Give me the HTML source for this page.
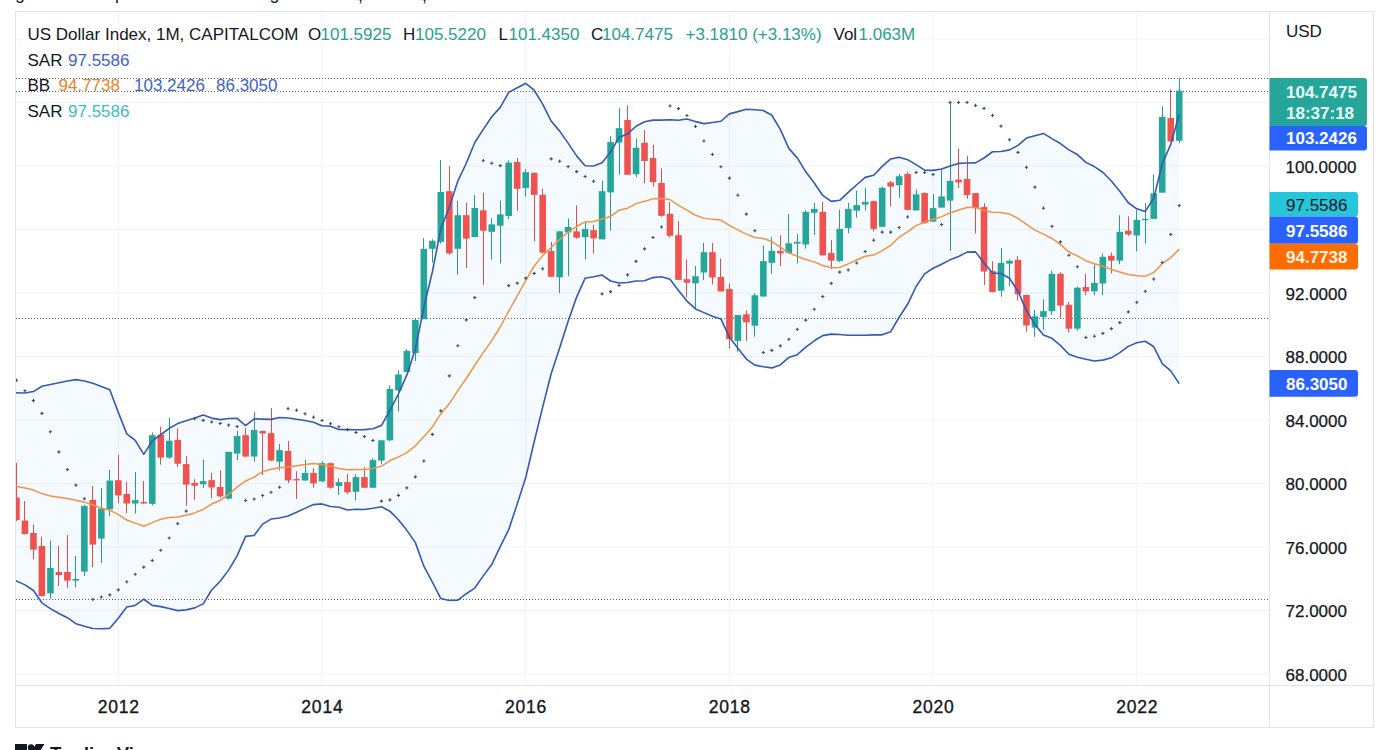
<!DOCTYPE html>
<html><head><meta charset="utf-8"><style>html,body{margin:0;padding:0;background:#fff;width:1389px;height:750px;overflow:hidden}</style></head>
<body><svg width="1389" height="750" viewBox="0 0 1389 750" style="display:block">
<rect width="1389" height="750" fill="#fff"/>
<g font-family="Liberation Sans, sans-serif" font-size="18" fill="#222"><text x="15" y="-1.3">g</text><text x="115" y="-1">p</text><text x="269.5" y="-1.3">g</text><text x="358" y="0.5">,</text><text x="422" y="0.5">,</text></g>
<path d="M15.5 674.0H1269.5 M15.5 610.5H1269.5 M15.5 547.0H1269.5 M15.5 483.5H1269.5 M15.5 420.0H1269.5 M15.5 356.5H1269.5 M15.5 293.0H1269.5 M15.5 229.5H1269.5 M15.5 166.0H1269.5 M15.5 102.5H1269.5 M15.5 39.0H1269.5 M118.3 11.5V685.5 M322.0 11.5V685.5 M525.7 11.5V685.5 M729.4 11.5V685.5 M933.1 11.5V685.5 M1136.8 11.5V685.5" stroke="#f0f3fa" stroke-width="1" fill="none"/>
<defs><clipPath id="cl"><rect x="15.5" y="11.5" width="1254.0" height="674.0"/></clipPath></defs>
<g clip-path="url(#cl)">
<polygon points="14.50,392.70 24.94,392.99 33.42,391.58 41.91,386.30 50.40,384.50 58.89,382.70 67.38,381.00 75.86,379.61 84.35,380.99 92.84,383.31 101.33,386.51 109.81,389.73 118.30,412.40 126.79,433.87 135.28,440.38 143.76,454.34 152.25,440.96 160.74,434.77 169.22,428.30 177.71,423.58 186.20,420.77 194.69,417.93 203.18,415.10 211.66,418.09 220.15,419.65 228.64,418.53 237.12,418.36 245.61,425.54 254.10,418.79 262.59,419.10 271.08,419.35 279.56,417.45 288.05,417.95 296.54,419.27 305.03,420.49 313.51,422.27 322.00,425.76 330.49,426.19 338.98,429.49 347.46,429.64 355.95,429.68 364.44,429.61 372.93,428.73 381.41,425.57 389.90,410.36 398.39,394.02 406.88,374.91 415.36,349.01 423.85,307.31 432.34,272.00 440.83,228.83 449.31,207.22 457.80,181.05 466.29,163.28 474.78,142.44 483.26,129.38 491.75,116.82 500.24,107.39 508.73,92.41 517.21,87.78 525.70,83.49 534.19,90.21 542.68,104.07 551.16,121.10 559.65,131.11 568.14,143.11 576.63,155.88 585.11,165.75 593.60,166.05 602.09,162.82 610.58,151.90 619.06,137.41 627.55,133.83 636.04,126.25 644.53,121.75 653.01,120.10 661.50,120.14 669.99,119.79 678.48,120.30 686.96,119.01 695.45,121.60 703.94,123.64 712.43,122.47 720.91,121.27 729.40,113.87 737.89,111.64 746.38,109.18 754.86,109.73 763.35,110.45 771.84,115.22 780.33,129.32 788.81,148.40 797.30,157.87 805.79,171.83 814.28,182.94 822.76,195.44 831.25,201.40 839.74,200.32 848.23,192.43 856.71,184.74 865.20,177.36 873.69,175.31 882.18,166.40 890.66,158.95 899.15,157.22 907.64,159.65 916.13,164.64 924.61,170.09 933.10,170.38 941.59,168.94 950.08,166.07 958.56,163.40 967.05,163.05 975.54,162.91 984.03,157.98 992.51,151.76 1001.00,151.49 1009.49,149.86 1017.98,145.35 1026.46,138.08 1034.95,135.71 1043.44,133.42 1051.93,138.67 1060.41,143.52 1068.90,149.87 1077.39,154.56 1085.88,162.40 1094.36,166.54 1102.85,172.28 1111.34,181.03 1119.83,191.30 1128.31,202.74 1136.80,208.84 1145.29,211.44 1153.78,198.10 1162.26,163.79 1170.75,144.39 1179.24,114.55 1179.24,383.65 1170.75,370.83 1162.26,363.58 1153.78,346.77 1145.29,341.25 1136.80,342.77 1128.31,346.38 1119.83,352.62 1111.34,357.81 1102.85,360.14 1094.36,361.01 1085.88,359.17 1077.39,357.32 1068.90,354.22 1060.41,345.34 1051.93,338.28 1043.44,334.92 1034.95,324.41 1026.46,310.61 1017.98,291.30 1009.49,278.27 1001.00,273.45 992.51,272.95 984.03,263.07 975.54,251.88 967.05,252.11 958.56,256.44 950.08,259.86 941.59,264.24 933.10,268.26 924.61,273.84 916.13,286.52 907.64,304.30 899.15,317.25 890.66,331.80 882.18,334.84 873.69,334.91 865.20,335.18 856.71,335.24 848.23,335.31 839.74,334.50 831.25,334.11 822.76,335.60 814.28,340.78 805.79,347.10 797.30,354.64 788.81,357.40 780.33,364.97 771.84,367.91 763.35,366.71 754.86,365.16 746.38,359.08 737.89,348.16 729.40,337.12 720.91,318.94 712.43,316.26 703.94,312.61 695.45,308.91 686.96,301.10 678.48,290.41 669.99,279.21 661.50,276.72 653.01,277.61 644.53,280.82 636.04,281.02 627.55,282.52 619.06,282.99 610.58,281.01 602.09,275.09 593.60,276.83 585.11,278.17 576.63,297.14 568.14,321.23 559.65,347.98 551.16,373.75 542.68,407.14 534.19,441.74 525.70,477.75 517.21,503.95 508.73,529.67 500.24,546.63 491.75,564.54 483.26,575.86 474.78,588.07 466.29,593.73 457.80,600.13 449.31,600.49 440.83,598.56 432.34,582.24 423.85,566.20 415.36,542.62 406.88,530.37 398.39,519.79 389.90,511.18 381.41,506.72 372.93,508.27 364.44,509.49 355.95,509.22 347.46,510.02 338.98,507.31 330.49,506.48 322.00,503.90 313.51,504.58 305.03,508.38 296.54,512.31 288.05,515.93 279.56,517.93 271.08,519.08 262.59,524.14 254.10,535.56 245.61,536.41 237.12,555.84 228.64,570.12 220.15,581.31 211.66,590.03 203.18,603.87 194.69,607.90 186.20,609.88 177.71,610.60 169.22,608.44 160.74,606.63 152.25,605.41 143.76,599.23 135.28,605.47 126.79,607.08 118.30,618.22 109.81,628.33 101.33,628.70 92.84,628.50 84.35,626.25 75.86,623.68 67.38,617.69 58.89,613.53 50.40,608.58 41.91,602.80 33.42,590.49 24.94,584.88 14.50,580.19" fill="#2196f3" fill-opacity="0.05"/>
<path d="M16 78.5H1269.5" stroke="#5d606b" stroke-width="1" stroke-dasharray="1 2"/>
<path d="M16 91.5H1269.5" stroke="#5d606b" stroke-width="1" stroke-dasharray="1 2"/>
<path d="M16 318.5H1269.5" stroke="#5d606b" stroke-width="1" stroke-dasharray="1 2"/>
<path d="M16 599.5H1269.5" stroke="#5d606b" stroke-width="1" stroke-dasharray="1 2"/>
<path d="M16.50 463.00V521.00" stroke="#d9504d" stroke-width="1"/>
<rect x="13.15" y="497.60" width="6.6" height="22.40" fill="#ef5350"/>
<path d="M24.50 501.00V534.60" stroke="#d9504d" stroke-width="1"/>
<rect x="21.64" y="520.60" width="6.6" height="13.40" fill="#ef5350"/>
<path d="M33.50 524.60V559.00" stroke="#d9504d" stroke-width="1"/>
<rect x="30.12" y="533.00" width="6.6" height="16.60" fill="#ef5350"/>
<path d="M41.50 536.60V596.60" stroke="#d9504d" stroke-width="1"/>
<rect x="38.61" y="546.00" width="6.6" height="50.00" fill="#ef5350"/>
<path d="M50.50 540.60V598.60" stroke="#2a9a8f" stroke-width="1"/>
<rect x="47.10" y="568.00" width="6.6" height="25.40" fill="#26a69a"/>
<path d="M58.50 546.00V586.00" stroke="#d9504d" stroke-width="1"/>
<rect x="55.59" y="572.00" width="6.6" height="3.00" fill="#ef5350"/>
<path d="M67.50 535.00V588.00" stroke="#d9504d" stroke-width="1"/>
<rect x="64.08" y="572.00" width="6.6" height="8.60" fill="#ef5350"/>
<path d="M75.50 556.00V587.40" stroke="#2a9a8f" stroke-width="1"/>
<rect x="72.56" y="579.00" width="6.6" height="1.60" fill="#26a69a"/>
<path d="M84.50 504.60V576.00" stroke="#2a9a8f" stroke-width="1"/>
<rect x="81.05" y="506.00" width="6.6" height="65.60" fill="#26a69a"/>
<path d="M92.50 486.00V567.00" stroke="#d9504d" stroke-width="1"/>
<rect x="89.54" y="500.00" width="6.6" height="44.60" fill="#ef5350"/>
<path d="M101.50 488.00V563.00" stroke="#2a9a8f" stroke-width="1"/>
<rect x="98.03" y="508.60" width="6.6" height="30.00" fill="#26a69a"/>
<path d="M109.50 470.00V516.00" stroke="#2a9a8f" stroke-width="1"/>
<rect x="106.51" y="480.60" width="6.6" height="28.80" fill="#26a69a"/>
<path d="M118.50 454.96V502.94" stroke="#d9504d" stroke-width="1"/>
<rect x="115.00" y="480.16" width="6.6" height="15.31" fill="#ef5350"/>
<path d="M126.50 482.03V513.20" stroke="#d9504d" stroke-width="1"/>
<rect x="123.49" y="493.98" width="6.6" height="9.52" fill="#ef5350"/>
<path d="M135.50 472.14V513.58" stroke="#2a9a8f" stroke-width="1"/>
<rect x="131.97" y="500.14" width="6.6" height="3.36" fill="#26a69a"/>
<path d="M143.50 480.91V504.24" stroke="#d9504d" stroke-width="1"/>
<rect x="140.46" y="502.00" width="6.6" height="1.49" fill="#ef5350"/>
<path d="M152.50 432.56V505.36" stroke="#2a9a8f" stroke-width="1"/>
<rect x="148.95" y="435.17" width="6.6" height="68.70" fill="#26a69a"/>
<path d="M160.50 426.77V464.67" stroke="#d9504d" stroke-width="1"/>
<rect x="157.44" y="434.80" width="6.6" height="22.77" fill="#ef5350"/>
<path d="M169.50 418.00V459.07" stroke="#2a9a8f" stroke-width="1"/>
<rect x="165.92" y="440.77" width="6.6" height="16.80" fill="#26a69a"/>
<path d="M177.50 428.27V466.91" stroke="#d9504d" stroke-width="1"/>
<rect x="174.41" y="439.84" width="6.6" height="23.89" fill="#ef5350"/>
<path d="M186.50 456.27V505.74" stroke="#d9504d" stroke-width="1"/>
<rect x="182.90" y="464.11" width="6.6" height="20.53" fill="#ef5350"/>
<path d="M194.50 479.23V499.76" stroke="#d9504d" stroke-width="1"/>
<rect x="191.39" y="482.96" width="6.6" height="2.80" fill="#ef5350"/>
<path d="M203.50 459.63V488.00" stroke="#2a9a8f" stroke-width="1"/>
<rect x="199.88" y="481.10" width="6.6" height="3.17" fill="#26a69a"/>
<path d="M211.50 473.07V498.27" stroke="#d9504d" stroke-width="1"/>
<rect x="208.36" y="480.16" width="6.6" height="7.28" fill="#ef5350"/>
<path d="M220.50 470.40V497.62" stroke="#d9504d" stroke-width="1"/>
<rect x="216.85" y="486.87" width="6.6" height="9.53" fill="#ef5350"/>
<path d="M228.50 451.86V499.35" stroke="#2a9a8f" stroke-width="1"/>
<rect x="225.34" y="451.86" width="6.6" height="46.80" fill="#26a69a"/>
<path d="M237.50 430.88V460.00" stroke="#2a9a8f" stroke-width="1"/>
<rect x="233.82" y="436.08" width="6.6" height="17.51" fill="#26a69a"/>
<path d="M245.50 427.93V457.06" stroke="#d9504d" stroke-width="1"/>
<rect x="242.31" y="435.21" width="6.6" height="21.32" fill="#ef5350"/>
<path d="M254.50 411.81V461.74" stroke="#2a9a8f" stroke-width="1"/>
<rect x="250.80" y="430.01" width="6.6" height="26.52" fill="#26a69a"/>
<path d="M262.50 430.53V475.08" stroke="#d9504d" stroke-width="1"/>
<rect x="259.29" y="431.05" width="6.6" height="2.43" fill="#ef5350"/>
<path d="M271.50 408.00V460.87" stroke="#d9504d" stroke-width="1"/>
<rect x="267.78" y="433.13" width="6.6" height="27.39" fill="#ef5350"/>
<path d="M279.50 444.06V470.40" stroke="#2a9a8f" stroke-width="1"/>
<rect x="276.26" y="450.12" width="6.6" height="11.61" fill="#26a69a"/>
<path d="M288.50 440.94V483.06" stroke="#d9504d" stroke-width="1"/>
<rect x="284.75" y="450.99" width="6.6" height="29.47" fill="#ef5350"/>
<path d="M296.50 471.27V499.00" stroke="#d9504d" stroke-width="1"/>
<rect x="293.24" y="479.07" width="6.6" height="1.39" fill="#ef5350"/>
<path d="M305.50 460.00V480.80" stroke="#2a9a8f" stroke-width="1"/>
<rect x="301.73" y="473.00" width="6.6" height="7.45" fill="#26a69a"/>
<path d="M313.50 468.15V487.74" stroke="#d9504d" stroke-width="1"/>
<rect x="310.21" y="473.00" width="6.6" height="10.40" fill="#ef5350"/>
<path d="M322.50 461.37V482.15" stroke="#2a9a8f" stroke-width="1"/>
<rect x="318.70" y="463.15" width="6.6" height="18.24" fill="#26a69a"/>
<path d="M330.50 462.64V488.48" stroke="#d9504d" stroke-width="1"/>
<rect x="327.19" y="463.15" width="6.6" height="24.58" fill="#ef5350"/>
<path d="M338.50 478.35V494.82" stroke="#2a9a8f" stroke-width="1"/>
<rect x="335.68" y="482.15" width="6.6" height="3.80" fill="#26a69a"/>
<path d="M347.50 474.04V494.31" stroke="#d9504d" stroke-width="1"/>
<rect x="344.16" y="482.15" width="6.6" height="10.13" fill="#ef5350"/>
<path d="M355.50 474.04V500.39" stroke="#2a9a8f" stroke-width="1"/>
<rect x="352.65" y="477.08" width="6.6" height="14.69" fill="#26a69a"/>
<path d="M364.50 467.45V487.72" stroke="#d9504d" stroke-width="1"/>
<rect x="361.14" y="477.08" width="6.6" height="10.64" fill="#ef5350"/>
<path d="M372.50 458.08V487.72" stroke="#2a9a8f" stroke-width="1"/>
<rect x="369.62" y="460.11" width="6.6" height="27.62" fill="#26a69a"/>
<path d="M381.50 440.34V463.91" stroke="#2a9a8f" stroke-width="1"/>
<rect x="378.11" y="440.34" width="6.6" height="20.27" fill="#26a69a"/>
<path d="M389.50 385.37V441.10" stroke="#2a9a8f" stroke-width="1"/>
<rect x="386.60" y="388.91" width="6.6" height="51.43" fill="#26a69a"/>
<path d="M398.50 370.16V411.21" stroke="#2a9a8f" stroke-width="1"/>
<rect x="395.09" y="374.47" width="6.6" height="15.96" fill="#26a69a"/>
<path d="M406.50 349.14V371.94" stroke="#2a9a8f" stroke-width="1"/>
<rect x="403.57" y="350.91" width="6.6" height="21.03" fill="#26a69a"/>
<path d="M415.50 318.13V361.07" stroke="#2a9a8f" stroke-width="1"/>
<rect x="412.06" y="320.00" width="6.6" height="33.07" fill="#26a69a"/>
<path d="M423.50 238.13V319.20" stroke="#2a9a8f" stroke-width="1"/>
<rect x="420.55" y="248.80" width="6.6" height="70.40" fill="#26a69a"/>
<path d="M432.50 239.20V262.67" stroke="#2a9a8f" stroke-width="1"/>
<rect x="429.04" y="240.80" width="6.6" height="8.00" fill="#26a69a"/>
<path d="M440.50 160.00V243.47" stroke="#2a9a8f" stroke-width="1"/>
<rect x="437.53" y="192.00" width="6.6" height="49.87" fill="#26a69a"/>
<path d="M449.50 166.13V254.67" stroke="#d9504d" stroke-width="1"/>
<rect x="446.01" y="191.20" width="6.6" height="62.13" fill="#ef5350"/>
<path d="M457.50 200.80V274.67" stroke="#2a9a8f" stroke-width="1"/>
<rect x="454.50" y="215.20" width="6.6" height="33.60" fill="#26a69a"/>
<path d="M466.50 202.67V268.00" stroke="#d9504d" stroke-width="1"/>
<rect x="462.99" y="215.20" width="6.6" height="23.47" fill="#ef5350"/>
<path d="M474.50 195.10V237.05" stroke="#2a9a8f" stroke-width="1"/>
<rect x="471.48" y="208.03" width="6.6" height="29.02" fill="#26a69a"/>
<path d="M483.50 192.61V284.90" stroke="#d9504d" stroke-width="1"/>
<rect x="479.96" y="210.29" width="6.6" height="20.41" fill="#ef5350"/>
<path d="M491.50 218.23V259.73" stroke="#2a9a8f" stroke-width="1"/>
<rect x="488.45" y="224.35" width="6.6" height="7.48" fill="#26a69a"/>
<path d="M500.50 200.77V263.58" stroke="#2a9a8f" stroke-width="1"/>
<rect x="496.94" y="214.38" width="6.6" height="11.34" fill="#26a69a"/>
<path d="M508.50 160.41V219.37" stroke="#2a9a8f" stroke-width="1"/>
<rect x="505.43" y="162.68" width="6.6" height="53.29" fill="#26a69a"/>
<path d="M517.50 158.14V210.75" stroke="#d9504d" stroke-width="1"/>
<rect x="513.91" y="162.00" width="6.6" height="26.76" fill="#ef5350"/>
<path d="M525.50 169.02V196.69" stroke="#2a9a8f" stroke-width="1"/>
<rect x="522.40" y="172.20" width="6.6" height="15.87" fill="#26a69a"/>
<path d="M534.50 172.43V241.59" stroke="#d9504d" stroke-width="1"/>
<rect x="530.89" y="172.88" width="6.6" height="22.00" fill="#ef5350"/>
<path d="M542.50 188.75V253.38" stroke="#d9504d" stroke-width="1"/>
<rect x="539.38" y="194.88" width="6.6" height="57.82" fill="#ef5350"/>
<path d="M551.50 242.04V277.19" stroke="#d9504d" stroke-width="1"/>
<rect x="547.86" y="251.11" width="6.6" height="25.62" fill="#ef5350"/>
<path d="M559.50 231.31V293.19" stroke="#2a9a8f" stroke-width="1"/>
<rect x="556.35" y="231.31" width="6.6" height="46.01" fill="#26a69a"/>
<path d="M568.50 218.40V276.19" stroke="#2a9a8f" stroke-width="1"/>
<rect x="564.84" y="227.01" width="6.6" height="5.44" fill="#26a69a"/>
<path d="M576.50 205.25V238.79" stroke="#d9504d" stroke-width="1"/>
<rect x="573.33" y="231.31" width="6.6" height="6.35" fill="#ef5350"/>
<path d="M585.50 221.80V259.19" stroke="#2a9a8f" stroke-width="1"/>
<rect x="581.81" y="229.05" width="6.6" height="8.16" fill="#26a69a"/>
<path d="M593.50 224.74V253.53" stroke="#d9504d" stroke-width="1"/>
<rect x="590.30" y="230.18" width="6.6" height="8.16" fill="#ef5350"/>
<path d="M602.50 180.66V239.32" stroke="#2a9a8f" stroke-width="1"/>
<rect x="598.79" y="191.22" width="6.6" height="48.11" fill="#26a69a"/>
<path d="M610.50 136.07V230.52" stroke="#2a9a8f" stroke-width="1"/>
<rect x="607.28" y="141.93" width="6.6" height="50.45" fill="#26a69a"/>
<path d="M619.50 108.20V174.79" stroke="#2a9a8f" stroke-width="1"/>
<rect x="615.76" y="128.15" width="6.6" height="14.37" fill="#26a69a"/>
<path d="M627.50 105.27V174.79" stroke="#d9504d" stroke-width="1"/>
<rect x="624.25" y="119.93" width="6.6" height="54.85" fill="#ef5350"/>
<path d="M636.50 138.41V177.14" stroke="#2a9a8f" stroke-width="1"/>
<rect x="632.74" y="147.80" width="6.6" height="26.40" fill="#26a69a"/>
<path d="M644.50 130.20V183.00" stroke="#d9504d" stroke-width="1"/>
<rect x="641.23" y="142.81" width="6.6" height="18.19" fill="#ef5350"/>
<path d="M653.50 144.87V186.52" stroke="#d9504d" stroke-width="1"/>
<rect x="649.71" y="158.07" width="6.6" height="24.05" fill="#ef5350"/>
<path d="M661.50 168.34V216.74" stroke="#d9504d" stroke-width="1"/>
<rect x="658.20" y="183.00" width="6.6" height="32.85" fill="#ef5350"/>
<path d="M669.50 202.07V237.27" stroke="#d9504d" stroke-width="1"/>
<rect x="666.69" y="213.80" width="6.6" height="22.00" fill="#ef5350"/>
<path d="M678.50 221.14V279.80" stroke="#d9504d" stroke-width="1"/>
<rect x="675.18" y="235.22" width="6.6" height="44.59" fill="#ef5350"/>
<path d="M686.50 259.27V297.41" stroke="#d9504d" stroke-width="1"/>
<rect x="683.66" y="279.22" width="6.6" height="3.52" fill="#ef5350"/>
<path d="M695.50 266.14V307.95" stroke="#2a9a8f" stroke-width="1"/>
<rect x="692.15" y="276.28" width="6.6" height="7.09" fill="#26a69a"/>
<path d="M703.50 242.83V280.08" stroke="#2a9a8f" stroke-width="1"/>
<rect x="700.64" y="252.21" width="6.6" height="20.27" fill="#26a69a"/>
<path d="M712.50 242.83V284.38" stroke="#d9504d" stroke-width="1"/>
<rect x="709.13" y="252.21" width="6.6" height="25.34" fill="#ef5350"/>
<path d="M720.50 258.54V291.48" stroke="#d9504d" stroke-width="1"/>
<rect x="717.61" y="277.04" width="6.6" height="14.44" fill="#ef5350"/>
<path d="M729.50 283.37V348.48" stroke="#d9504d" stroke-width="1"/>
<rect x="726.10" y="288.94" width="6.6" height="50.16" fill="#ef5350"/>
<path d="M737.50 315.04V351.78" stroke="#2a9a8f" stroke-width="1"/>
<rect x="734.59" y="315.04" width="6.6" height="25.84" fill="#26a69a"/>
<path d="M746.50 310.48V340.88" stroke="#d9504d" stroke-width="1"/>
<rect x="743.08" y="314.28" width="6.6" height="8.11" fill="#ef5350"/>
<path d="M754.50 293.25V336.57" stroke="#2a9a8f" stroke-width="1"/>
<rect x="751.56" y="295.28" width="6.6" height="30.40" fill="#26a69a"/>
<path d="M763.50 245.37V296.54" stroke="#2a9a8f" stroke-width="1"/>
<rect x="760.05" y="261.07" width="6.6" height="35.47" fill="#26a69a"/>
<path d="M771.50 237.01V273.74" stroke="#2a9a8f" stroke-width="1"/>
<rect x="768.54" y="250.94" width="6.6" height="11.91" fill="#26a69a"/>
<path d="M780.50 235.23V266.14" stroke="#d9504d" stroke-width="1"/>
<rect x="777.03" y="250.94" width="6.6" height="2.53" fill="#ef5350"/>
<path d="M788.50 214.20V253.47" stroke="#2a9a8f" stroke-width="1"/>
<rect x="785.51" y="243.34" width="6.6" height="9.63" fill="#26a69a"/>
<path d="M797.50 234.07V263.54" stroke="#2a9a8f" stroke-width="1"/>
<rect x="794.00" y="241.87" width="6.6" height="1.73" fill="#26a69a"/>
<path d="M805.50 210.32V248.46" stroke="#2a9a8f" stroke-width="1"/>
<rect x="802.49" y="211.88" width="6.6" height="32.59" fill="#26a69a"/>
<path d="M814.50 202.87V234.94" stroke="#2a9a8f" stroke-width="1"/>
<rect x="810.98" y="208.94" width="6.6" height="3.81" fill="#26a69a"/>
<path d="M822.50 202.00V255.39" stroke="#d9504d" stroke-width="1"/>
<rect x="819.46" y="211.88" width="6.6" height="43.51" fill="#ef5350"/>
<path d="M831.50 240.14V269.26" stroke="#d9504d" stroke-width="1"/>
<rect x="827.95" y="253.14" width="6.6" height="7.45" fill="#ef5350"/>
<path d="M839.50 209.80V262.32" stroke="#2a9a8f" stroke-width="1"/>
<rect x="836.44" y="228.87" width="6.6" height="32.07" fill="#26a69a"/>
<path d="M848.50 202.87V233.20" stroke="#2a9a8f" stroke-width="1"/>
<rect x="844.93" y="208.94" width="6.6" height="19.07" fill="#26a69a"/>
<path d="M856.50 190.73V217.60" stroke="#2a9a8f" stroke-width="1"/>
<rect x="853.41" y="205.12" width="6.6" height="5.55" fill="#26a69a"/>
<path d="M865.50 187.79V210.67" stroke="#2a9a8f" stroke-width="1"/>
<rect x="861.90" y="202.00" width="6.6" height="2.60" fill="#26a69a"/>
<path d="M873.50 200.62V231.47" stroke="#d9504d" stroke-width="1"/>
<rect x="870.39" y="201.14" width="6.6" height="27.73" fill="#ef5350"/>
<path d="M882.50 186.40V226.79" stroke="#2a9a8f" stroke-width="1"/>
<rect x="878.88" y="187.79" width="6.6" height="39.00" fill="#26a69a"/>
<path d="M890.50 181.01V206.21" stroke="#d9504d" stroke-width="1"/>
<rect x="887.36" y="182.41" width="6.6" height="4.20" fill="#ef5350"/>
<path d="M899.50 174.01V197.81" stroke="#2a9a8f" stroke-width="1"/>
<rect x="895.85" y="176.25" width="6.6" height="8.96" fill="#26a69a"/>
<path d="M907.50 171.77V210.41" stroke="#d9504d" stroke-width="1"/>
<rect x="904.34" y="174.01" width="6.6" height="35.84" fill="#ef5350"/>
<path d="M916.50 189.41V210.41" stroke="#2a9a8f" stroke-width="1"/>
<rect x="912.83" y="194.45" width="6.6" height="15.96" fill="#26a69a"/>
<path d="M924.50 192.21V223.86" stroke="#d9504d" stroke-width="1"/>
<rect x="921.31" y="193.05" width="6.6" height="29.96" fill="#ef5350"/>
<path d="M933.50 194.17V221.62" stroke="#2a9a8f" stroke-width="1"/>
<rect x="929.80" y="208.17" width="6.6" height="13.44" fill="#26a69a"/>
<path d="M941.50 168.97V207.61" stroke="#2a9a8f" stroke-width="1"/>
<rect x="938.29" y="196.41" width="6.6" height="11.20" fill="#26a69a"/>
<path d="M950.50 101.76V251.02" stroke="#2a9a8f" stroke-width="1"/>
<rect x="946.78" y="181.01" width="6.6" height="19.60" fill="#26a69a"/>
<path d="M958.50 148.81V188.01" stroke="#d9504d" stroke-width="1"/>
<rect x="955.26" y="179.61" width="6.6" height="2.80" fill="#ef5350"/>
<path d="M967.50 155.81V198.65" stroke="#d9504d" stroke-width="1"/>
<rect x="963.75" y="179.05" width="6.6" height="15.96" fill="#ef5350"/>
<path d="M975.50 193.05V233.38" stroke="#d9504d" stroke-width="1"/>
<rect x="972.24" y="193.05" width="6.6" height="15.12" fill="#ef5350"/>
<path d="M984.50 203.23V284.93" stroke="#d9504d" stroke-width="1"/>
<rect x="980.73" y="207.07" width="6.6" height="64.43" fill="#ef5350"/>
<path d="M992.50 261.47V292.40" stroke="#d9504d" stroke-width="1"/>
<rect x="989.21" y="271.07" width="6.6" height="20.91" fill="#ef5350"/>
<path d="M1001.50 248.03V296.67" stroke="#2a9a8f" stroke-width="1"/>
<rect x="997.70" y="262.96" width="6.6" height="27.73" fill="#26a69a"/>
<path d="M1009.50 259.33V286.00" stroke="#2a9a8f" stroke-width="1"/>
<rect x="1006.19" y="260.83" width="6.6" height="2.77" fill="#26a69a"/>
<path d="M1017.50 256.13V300.51" stroke="#d9504d" stroke-width="1"/>
<rect x="1014.68" y="259.97" width="6.6" height="34.13" fill="#ef5350"/>
<path d="M1026.50 294.96V331.87" stroke="#d9504d" stroke-width="1"/>
<rect x="1023.16" y="294.96" width="6.6" height="30.51" fill="#ef5350"/>
<path d="M1034.50 309.89V336.77" stroke="#2a9a8f" stroke-width="1"/>
<rect x="1031.65" y="316.29" width="6.6" height="11.31" fill="#26a69a"/>
<path d="M1043.50 299.23V329.73" stroke="#2a9a8f" stroke-width="1"/>
<rect x="1040.14" y="311.17" width="6.6" height="5.76" fill="#26a69a"/>
<path d="M1051.50 270.64V314.80" stroke="#2a9a8f" stroke-width="1"/>
<rect x="1048.63" y="273.84" width="6.6" height="37.33" fill="#26a69a"/>
<path d="M1060.50 272.13V319.07" stroke="#d9504d" stroke-width="1"/>
<rect x="1057.11" y="273.84" width="6.6" height="31.79" fill="#ef5350"/>
<path d="M1068.50 302.00V332.51" stroke="#d9504d" stroke-width="1"/>
<rect x="1065.60" y="304.77" width="6.6" height="23.89" fill="#ef5350"/>
<path d="M1077.50 286.43V330.80" stroke="#2a9a8f" stroke-width="1"/>
<rect x="1074.09" y="287.71" width="6.6" height="40.96" fill="#26a69a"/>
<path d="M1085.50 273.87V295.20" stroke="#d9504d" stroke-width="1"/>
<rect x="1082.58" y="287.09" width="6.6" height="4.27" fill="#ef5350"/>
<path d="M1094.50 264.27V295.20" stroke="#2a9a8f" stroke-width="1"/>
<rect x="1091.06" y="282.83" width="6.6" height="8.53" fill="#26a69a"/>
<path d="M1102.50 253.60V295.20" stroke="#2a9a8f" stroke-width="1"/>
<rect x="1099.55" y="256.80" width="6.6" height="26.67" fill="#26a69a"/>
<path d="M1111.50 252.53V273.44" stroke="#d9504d" stroke-width="1"/>
<rect x="1108.04" y="255.73" width="6.6" height="4.91" fill="#ef5350"/>
<path d="M1119.50 215.20V264.27" stroke="#2a9a8f" stroke-width="1"/>
<rect x="1116.53" y="231.84" width="6.6" height="28.80" fill="#26a69a"/>
<path d="M1128.50 216.27V235.89" stroke="#d9504d" stroke-width="1"/>
<rect x="1125.01" y="230.77" width="6.6" height="3.63" fill="#ef5350"/>
<path d="M1136.50 209.87V251.47" stroke="#2a9a8f" stroke-width="1"/>
<rect x="1133.50" y="219.89" width="6.6" height="15.57" fill="#26a69a"/>
<path d="M1145.50 203.04V243.57" stroke="#2a9a8f" stroke-width="1"/>
<rect x="1141.99" y="218.97" width="6.6" height="1.20" fill="#26a69a"/>
<path d="M1153.50 174.53V218.91" stroke="#2a9a8f" stroke-width="1"/>
<rect x="1150.48" y="193.31" width="6.6" height="25.60" fill="#26a69a"/>
<path d="M1162.50 106.27V192.67" stroke="#2a9a8f" stroke-width="1"/>
<rect x="1158.96" y="116.93" width="6.6" height="75.73" fill="#26a69a"/>
<path d="M1170.50 89.20V141.47" stroke="#d9504d" stroke-width="1"/>
<rect x="1167.45" y="118.00" width="6.6" height="23.47" fill="#ef5350"/>
<path d="M1179.50 78.34V143.22" stroke="#2a9a8f" stroke-width="1"/>
<rect x="1175.94" y="90.63" width="6.6" height="50.09" fill="#26a69a"/>
<polyline points="14.50,392.70 24.94,392.99 33.42,391.58 41.91,386.30 50.40,384.50 58.89,382.70 67.38,381.00 75.86,379.61 84.35,380.99 92.84,383.31 101.33,386.51 109.81,389.73 118.30,412.40 126.79,433.87 135.28,440.38 143.76,454.34 152.25,440.96 160.74,434.77 169.22,428.30 177.71,423.58 186.20,420.77 194.69,417.93 203.18,415.10 211.66,418.09 220.15,419.65 228.64,418.53 237.12,418.36 245.61,425.54 254.10,418.79 262.59,419.10 271.08,419.35 279.56,417.45 288.05,417.95 296.54,419.27 305.03,420.49 313.51,422.27 322.00,425.76 330.49,426.19 338.98,429.49 347.46,429.64 355.95,429.68 364.44,429.61 372.93,428.73 381.41,425.57 389.90,410.36 398.39,394.02 406.88,374.91 415.36,349.01 423.85,307.31 432.34,272.00 440.83,228.83 449.31,207.22 457.80,181.05 466.29,163.28 474.78,142.44 483.26,129.38 491.75,116.82 500.24,107.39 508.73,92.41 517.21,87.78 525.70,83.49 534.19,90.21 542.68,104.07 551.16,121.10 559.65,131.11 568.14,143.11 576.63,155.88 585.11,165.75 593.60,166.05 602.09,162.82 610.58,151.90 619.06,137.41 627.55,133.83 636.04,126.25 644.53,121.75 653.01,120.10 661.50,120.14 669.99,119.79 678.48,120.30 686.96,119.01 695.45,121.60 703.94,123.64 712.43,122.47 720.91,121.27 729.40,113.87 737.89,111.64 746.38,109.18 754.86,109.73 763.35,110.45 771.84,115.22 780.33,129.32 788.81,148.40 797.30,157.87 805.79,171.83 814.28,182.94 822.76,195.44 831.25,201.40 839.74,200.32 848.23,192.43 856.71,184.74 865.20,177.36 873.69,175.31 882.18,166.40 890.66,158.95 899.15,157.22 907.64,159.65 916.13,164.64 924.61,170.09 933.10,170.38 941.59,168.94 950.08,166.07 958.56,163.40 967.05,163.05 975.54,162.91 984.03,157.98 992.51,151.76 1001.00,151.49 1009.49,149.86 1017.98,145.35 1026.46,138.08 1034.95,135.71 1043.44,133.42 1051.93,138.67 1060.41,143.52 1068.90,149.87 1077.39,154.56 1085.88,162.40 1094.36,166.54 1102.85,172.28 1111.34,181.03 1119.83,191.30 1128.31,202.74 1136.80,208.84 1145.29,211.44 1153.78,198.10 1162.26,163.79 1170.75,144.39 1179.24,114.55" fill="none" stroke="#3659b3" stroke-width="1.6" stroke-linejoin="round"/>
<polyline points="14.50,580.19 24.94,584.88 33.42,590.49 41.91,602.80 50.40,608.58 58.89,613.53 67.38,617.69 75.86,623.68 84.35,626.25 92.84,628.50 101.33,628.70 109.81,628.33 118.30,618.22 126.79,607.08 135.28,605.47 143.76,599.23 152.25,605.41 160.74,606.63 169.22,608.44 177.71,610.60 186.20,609.88 194.69,607.90 203.18,603.87 211.66,590.03 220.15,581.31 228.64,570.12 237.12,555.84 245.61,536.41 254.10,535.56 262.59,524.14 271.08,519.08 279.56,517.93 288.05,515.93 296.54,512.31 305.03,508.38 313.51,504.58 322.00,503.90 330.49,506.48 338.98,507.31 347.46,510.02 355.95,509.22 364.44,509.49 372.93,508.27 381.41,506.72 389.90,511.18 398.39,519.79 406.88,530.37 415.36,542.62 423.85,566.20 432.34,582.24 440.83,598.56 449.31,600.49 457.80,600.13 466.29,593.73 474.78,588.07 483.26,575.86 491.75,564.54 500.24,546.63 508.73,529.67 517.21,503.95 525.70,477.75 534.19,441.74 542.68,407.14 551.16,373.75 559.65,347.98 568.14,321.23 576.63,297.14 585.11,278.17 593.60,276.83 602.09,275.09 610.58,281.01 619.06,282.99 627.55,282.52 636.04,281.02 644.53,280.82 653.01,277.61 661.50,276.72 669.99,279.21 678.48,290.41 686.96,301.10 695.45,308.91 703.94,312.61 712.43,316.26 720.91,318.94 729.40,337.12 737.89,348.16 746.38,359.08 754.86,365.16 763.35,366.71 771.84,367.91 780.33,364.97 788.81,357.40 797.30,354.64 805.79,347.10 814.28,340.78 822.76,335.60 831.25,334.11 839.74,334.50 848.23,335.31 856.71,335.24 865.20,335.18 873.69,334.91 882.18,334.84 890.66,331.80 899.15,317.25 907.64,304.30 916.13,286.52 924.61,273.84 933.10,268.26 941.59,264.24 950.08,259.86 958.56,256.44 967.05,252.11 975.54,251.88 984.03,263.07 992.51,272.95 1001.00,273.45 1009.49,278.27 1017.98,291.30 1026.46,310.61 1034.95,324.41 1043.44,334.92 1051.93,338.28 1060.41,345.34 1068.90,354.22 1077.39,357.32 1085.88,359.17 1094.36,361.01 1102.85,360.14 1111.34,357.81 1119.83,352.62 1128.31,346.38 1136.80,342.77 1145.29,341.25 1153.78,346.77 1162.26,363.58 1170.75,370.83 1179.24,383.65" fill="none" stroke="#3659b3" stroke-width="1.6" stroke-linejoin="round"/>
<polyline points="14.50,485.98 24.94,488.04 33.42,490.09 41.91,493.59 50.40,496.03 58.89,497.23 67.38,498.51 75.86,500.33 84.35,502.15 92.84,505.07 101.33,508.02 109.81,510.17 118.30,514.55 126.79,520.03 135.28,523.17 143.76,526.19 152.25,522.67 160.74,519.27 169.22,517.60 177.71,517.09 186.20,515.33 194.69,512.91 203.18,509.49 211.66,504.06 220.15,500.48 228.64,494.32 237.12,487.10 245.61,480.97 254.10,477.17 262.59,471.62 271.08,469.21 279.56,467.69 288.05,466.94 296.54,465.79 305.03,464.43 313.51,463.43 322.00,464.83 330.49,466.33 338.98,468.40 347.46,469.83 355.95,469.45 364.44,469.55 372.93,468.50 381.41,466.14 389.90,460.77 398.39,456.90 406.88,452.64 415.36,445.82 423.85,436.75 432.34,427.12 440.83,413.69 449.31,403.86 457.80,390.59 466.29,378.50 474.78,365.25 483.26,352.62 491.75,340.68 500.24,327.01 508.73,311.04 517.21,295.86 525.70,280.62 534.19,265.98 542.68,255.61 551.16,247.42 559.65,239.54 568.14,232.17 576.63,226.51 585.11,221.96 593.60,221.44 602.09,218.96 610.58,216.46 619.06,210.20 627.55,208.18 636.04,203.63 644.53,201.28 653.01,198.85 661.50,198.43 669.99,199.50 678.48,205.36 686.96,210.05 695.45,215.26 703.94,218.13 712.43,219.37 720.91,220.10 729.40,225.49 737.89,229.90 746.38,234.13 754.86,237.44 763.35,238.58 771.84,241.57 780.33,247.14 788.81,252.90 797.30,256.26 805.79,259.46 814.28,261.86 822.76,265.52 831.25,267.76 839.74,267.41 848.23,263.87 856.71,259.99 865.20,256.27 873.69,255.11 882.18,250.62 890.66,245.38 899.15,237.23 907.64,231.97 916.13,225.58 924.61,221.96 933.10,219.32 941.59,216.59 950.08,212.97 958.56,209.92 967.05,207.58 975.54,207.39 984.03,210.52 992.51,212.35 1001.00,212.47 1009.49,214.07 1017.98,218.33 1026.46,224.34 1034.95,230.06 1043.44,234.17 1051.93,238.48 1060.41,244.43 1068.90,252.05 1077.39,255.94 1085.88,260.79 1094.36,263.78 1102.85,266.21 1111.34,269.42 1119.83,271.96 1128.31,274.56 1136.80,275.80 1145.29,276.35 1153.78,272.44 1162.26,263.69 1170.75,257.61 1179.24,249.10" fill="none" stroke="#ee9448" stroke-width="1.5" stroke-linejoin="round"/>
<path d="M14.85 380.22h3.2M16.45 378.62v3.2M23.34 390.74h3.2M24.94 389.14v3.2M31.82 400.64h3.2M33.42 399.04v3.2M40.31 413.36h3.2M41.91 411.76v3.2M48.80 431.76h3.2M50.40 430.16v3.2M57.29 451.86h3.2M58.89 450.26v3.2M65.78 469.55h3.2M67.38 467.95v3.2M74.26 485.12h3.2M75.86 483.52v3.2M82.75 498.82h3.2M84.35 497.22v3.2M91.24 599.30h3.2M92.84 597.70v3.2M99.73 597.05h3.2M101.33 595.45v3.2M108.21 594.84h3.2M109.81 593.24v3.2M116.70 589.88h3.2M118.30 588.28v3.2M125.19 581.82h3.2M126.79 580.22v3.2M133.68 574.25h3.2M135.28 572.65v3.2M142.16 567.14h3.2M143.76 565.54v3.2M150.65 560.45h3.2M152.25 558.85v3.2M159.14 550.27h3.2M160.74 548.67v3.2M167.62 537.99h3.2M169.22 536.39v3.2M176.11 523.68h3.2M177.71 522.08v3.2M184.60 511.08h3.2M186.20 509.48v3.2M193.09 418.70h3.2M194.69 417.10v3.2M201.58 420.34h3.2M203.18 418.74v3.2M210.06 421.94h3.2M211.66 420.34v3.2M218.55 423.51h3.2M220.15 421.91v3.2M227.04 425.05h3.2M228.64 423.45v3.2M235.53 426.56h3.2M237.12 424.96v3.2M244.01 500.46h3.2M245.61 498.86v3.2M252.50 499.03h3.2M254.10 497.43v3.2M260.99 495.57h3.2M262.59 493.97v3.2M269.48 492.24h3.2M271.08 490.64v3.2M277.96 487.23h3.2M279.56 485.63v3.2M286.45 408.70h3.2M288.05 407.10v3.2M294.94 410.20h3.2M296.54 408.60v3.2M303.43 413.78h3.2M305.03 412.18v3.2M311.91 417.22h3.2M313.51 415.62v3.2M320.40 420.52h3.2M322.00 418.92v3.2M328.89 423.69h3.2M330.49 422.09v3.2M337.38 426.73h3.2M338.98 425.13v3.2M345.86 429.65h3.2M347.46 428.05v3.2M354.35 432.45h3.2M355.95 430.85v3.2M362.84 436.57h3.2M364.44 434.97v3.2M371.32 440.44h3.2M372.93 438.84v3.2M379.81 501.09h3.2M381.41 499.49v3.2M388.30 499.89h3.2M389.90 498.29v3.2M396.79 495.34h3.2M398.39 493.74v3.2M405.27 487.87h3.2M406.88 486.27v3.2M413.76 476.83h3.2M415.36 475.23v3.2M422.25 461.03h3.2M423.85 459.43v3.2M430.74 434.36h3.2M432.34 432.76v3.2M439.23 410.90h3.2M440.83 409.30v3.2M447.71 375.87h3.2M449.31 374.27v3.2M456.20 345.75h3.2M457.80 344.15v3.2M464.69 319.84h3.2M466.29 318.24v3.2M473.18 297.56h3.2M474.78 295.96v3.2M481.66 160.70h3.2M483.26 159.10v3.2M490.15 163.20h3.2M491.75 161.60v3.2M498.64 165.65h3.2M500.24 164.05v3.2M507.12 285.60h3.2M508.73 284.00v3.2M515.61 283.11h3.2M517.21 281.51v3.2M524.10 278.14h3.2M525.70 276.54v3.2M532.59 273.37h3.2M534.19 271.77v3.2M541.08 268.78h3.2M542.68 267.18v3.2M549.56 158.84h3.2M551.16 157.24v3.2M558.05 161.22h3.2M559.65 159.62v3.2M566.54 166.53h3.2M568.14 164.93v3.2M575.03 171.62h3.2M576.63 170.02v3.2M583.51 176.51h3.2M585.11 174.91v3.2M592.00 181.21h3.2M593.60 179.61v3.2M600.49 293.89h3.2M602.09 292.29v3.2M608.98 291.64h3.2M610.58 290.04v3.2M617.46 285.45h3.2M619.06 283.85v3.2M625.95 274.85h3.2M627.55 273.25v3.2M634.44 261.34h3.2M636.04 259.74v3.2M642.93 248.91h3.2M644.53 247.31v3.2M651.41 237.48h3.2M653.01 235.88v3.2M659.90 226.96h3.2M661.50 225.36v3.2M668.39 105.97h3.2M669.99 104.37v3.2M676.88 108.61h3.2M678.48 107.01v3.2M685.36 115.48h3.2M686.96 113.88v3.2M693.85 126.44h3.2M695.45 124.84v3.2M702.34 141.02h3.2M703.94 139.42v3.2M710.83 154.43h3.2M712.43 152.83v3.2M719.31 166.76h3.2M720.91 165.16v3.2M727.80 178.11h3.2M729.40 176.51v3.2M736.29 195.22h3.2M737.89 193.62v3.2M744.78 214.09h3.2M746.38 212.49v3.2M753.26 230.70h3.2M754.86 229.10v3.2M761.75 352.48h3.2M763.35 350.88v3.2M770.24 350.35h3.2M771.84 348.75v3.2M778.73 345.84h3.2M780.33 344.24v3.2M787.21 339.25h3.2M788.81 337.65v3.2M795.70 329.30h3.2M797.30 327.70v3.2M804.19 320.15h3.2M805.79 318.55v3.2M812.68 309.24h3.2M814.28 307.64v3.2M821.16 296.56h3.2M822.76 294.96v3.2M829.65 283.42h3.2M831.25 281.82v3.2M838.14 272.12h3.2M839.74 270.52v3.2M846.63 269.96h3.2M848.23 268.36v3.2M855.11 263.02h3.2M856.71 261.42v3.2M863.60 251.57h3.2M865.20 249.97v3.2M872.09 240.22h3.2M873.69 238.62v3.2M880.58 232.17h3.2M882.18 230.57v3.2M889.06 232.17h3.2M890.66 230.57v3.2M897.55 227.49h3.2M899.15 225.89v3.2M906.04 216.93h3.2M907.64 215.33v3.2M914.53 172.47h3.2M916.13 170.87v3.2M923.01 172.47h3.2M924.61 170.87v3.2M931.50 174.55h3.2M933.10 172.95v3.2M939.99 224.56h3.2M941.59 222.96v3.2M948.48 102.46h3.2M950.08 100.86v3.2M956.96 102.46h3.2M958.56 100.86v3.2M965.45 102.46h3.2M967.05 100.86v3.2M973.94 105.45h3.2M975.54 103.85v3.2M982.43 108.37h3.2M984.03 106.77v3.2M990.91 115.46h3.2M992.51 113.86v3.2M999.40 126.12h3.2M1001.00 124.52v3.2M1007.89 139.82h3.2M1009.49 138.22v3.2M1016.38 152.42h3.2M1017.98 150.82v3.2M1024.86 167.30h3.2M1026.46 165.70v3.2M1033.35 187.13h3.2M1034.95 185.53v3.2M1041.84 208.18h3.2M1043.44 206.58v3.2M1050.33 226.28h3.2M1051.93 224.68v3.2M1058.81 241.85h3.2M1060.41 240.25v3.2M1067.30 255.24h3.2M1068.90 253.64v3.2M1075.79 266.75h3.2M1077.39 265.15v3.2M1084.28 337.47h3.2M1085.88 335.87v3.2M1092.76 336.22h3.2M1094.36 334.62v3.2M1101.25 333.37h3.2M1102.85 331.77v3.2M1109.74 328.62h3.2M1111.34 327.02v3.2M1118.23 322.59h3.2M1119.83 320.99v3.2M1126.71 311.92h3.2M1128.31 310.32v3.2M1135.20 302.32h3.2M1136.80 300.72v3.2M1143.69 291.31h3.2M1145.29 289.71v3.2M1152.18 279.05h3.2M1153.78 277.45v3.2M1160.66 262.44h3.2M1162.26 260.84v3.2M1169.15 234.45h3.2M1170.75 232.85v3.2M1177.64 205.54h3.2M1179.24 203.94v3.2" stroke="#434f5c" stroke-width="1.1"/>
</g>
<rect x="15.5" y="11.5" width="1358.0" height="716.0" fill="none" stroke="#e2e3e7" stroke-width="1"/>
<path d="M1269.5 11.5V727.5M15.5 685.5H1373.5" stroke="#e2e3e7" stroke-width="1"/>
<g font-family="Liberation Sans, sans-serif">
<text x="27.5" y="40" fill="#131722" font-size="17" >US Dollar Index, 1M, CAPITALCOM</text>
<text x="308" y="40" fill="#131722" font-size="17" >O</text>
<text x="320.5" y="40" fill="#2aa08f" font-size="17" >101.5925</text>
<text x="403" y="40" fill="#131722" font-size="17" >H</text>
<text x="415" y="40" fill="#2aa08f" font-size="17" >105.5220</text>
<text x="498.5" y="40" fill="#131722" font-size="17" >L</text>
<text x="508.5" y="40" fill="#2aa08f" font-size="17" >101.4350</text>
<text x="591" y="40" fill="#131722" font-size="17" >C</text>
<text x="602" y="40" fill="#2aa08f" font-size="17" >104.7475</text>
<text x="685.5" y="40" fill="#2aa08f" font-size="17" >+3.1810 (+3.13%)</text>
<text x="833.5" y="40" fill="#131722" font-size="17" >Vol</text>
<text x="858.5" y="40" fill="#2aa08f" font-size="17" >1.063M</text>
<text x="27.5" y="65.7" fill="#131722" font-size="17" >SAR</text>
<text x="68" y="65.7" fill="#3d63c9" font-size="17" >97.5586</text>
<text x="27.5" y="91" fill="#131722" font-size="17" >BB</text>
<text x="58.5" y="91" fill="#e8822e" font-size="17" >94.7738</text>
<text x="134" y="91" fill="#3d63c9" font-size="17" >103.2426</text>
<text x="216" y="91" fill="#3d63c9" font-size="17" >86.3050</text>
<text x="27.5" y="117.2" fill="#131722" font-size="17" >SAR</text>
<text x="68" y="117.2" fill="#3bbcc4" font-size="17" >97.5586</text>
</g>
<g font-family="Liberation Sans, sans-serif" font-size="17">
<text x="1286" y="37" fill="#131722" font-size="17" >USD</text>
<text x="1285.5" y="172.7" fill="#131722" font-size="17" stroke="#131722" stroke-width="0.25">100.0000</text>
<text x="1285.5" y="299.7" fill="#131722" font-size="17" stroke="#131722" stroke-width="0.25">92.0000</text>
<text x="1285.5" y="363.2" fill="#131722" font-size="17" stroke="#131722" stroke-width="0.25">88.0000</text>
<text x="1285.5" y="426.7" fill="#131722" font-size="17" stroke="#131722" stroke-width="0.25">84.0000</text>
<text x="1285.5" y="490.2" fill="#131722" font-size="17" stroke="#131722" stroke-width="0.25">80.0000</text>
<text x="1285.5" y="553.7" fill="#131722" font-size="17" stroke="#131722" stroke-width="0.25">76.0000</text>
<text x="1285.5" y="617.2" fill="#131722" font-size="17" stroke="#131722" stroke-width="0.25">72.0000</text>
<text x="1285.5" y="680.7" fill="#131722" font-size="17" stroke="#131722" stroke-width="0.25">68.0000</text>
<path d="M1269.5 78H1364Q1367 78 1367 81V123Q1367 126 1364 126H1269.5Z" fill="#26a69a"/>
<text x="1286" y="97.5" fill="#e6fff9" font-size="17" font-weight="bold">104.7475</text>
<text x="1286" y="118.5" fill="#e6fff9" font-size="17" font-weight="bold">18:37:18</text>
<path d="M1269.5 126H1364Q1367 126 1367 129V147.5Q1367 150.5 1364 150.5H1269.5Z" fill="#2962ff"/>
<text x="1286" y="143.5" fill="#ffffff" font-size="17" font-weight="bold">103.2426</text>
<path d="M1269.5 192H1355Q1358 192 1358 195V213.6Q1358 216.6 1355 216.6H1269.5Z" fill="#26c6da"/>
<text x="1286" y="210.5" fill="#131722" font-size="17" >97.5586</text>
<path d="M1269.5 216.6H1355Q1358 216.6 1358 219.6V240.8Q1358 243.8 1355 243.8H1269.5Z" fill="#2962ff"/>
<text x="1286" y="236.5" fill="#ffffff" font-size="17" font-weight="bold">97.5586</text>
<path d="M1269.5 243.8H1355Q1358 243.8 1358 246.8V266.6Q1358 269.6 1355 269.6H1269.5Z" fill="#ff6d00"/>
<text x="1286" y="262.5" fill="#fff3e0" font-size="17" font-weight="bold">94.7738</text>
<path d="M1269.5 370H1355Q1358 370 1358 373V393.8Q1358 396.8 1355 396.8H1269.5Z" fill="#2962ff"/>
<text x="1286" y="389.5" fill="#ffffff" font-size="17" font-weight="bold">86.3050</text>
</g>
<g font-family="Liberation Sans, sans-serif" font-size="17.5" fill="#131722" stroke="#131722" stroke-width="0.35" letter-spacing="0.8" text-anchor="middle">
<text x="118.7" y="713">2012</text>
<text x="322.4" y="713">2014</text>
<text x="526.1" y="713">2016</text>
<text x="729.8" y="713">2018</text>
<text x="933.5" y="713">2020</text>
<text x="1137.2" y="713">2022</text>
</g>
<g fill="#131722"><rect x="15" y="744" width="12" height="7"/><circle cx="31" cy="747.5" r="3.2"/><path d="M36 744h8.5l-4.5 7h-8.5z"/></g>
<text x="50" y="760" font-family="Liberation Sans, sans-serif" font-size="18.5" font-weight="bold" fill="#131722">TradingView</text>
</svg></body></html>
